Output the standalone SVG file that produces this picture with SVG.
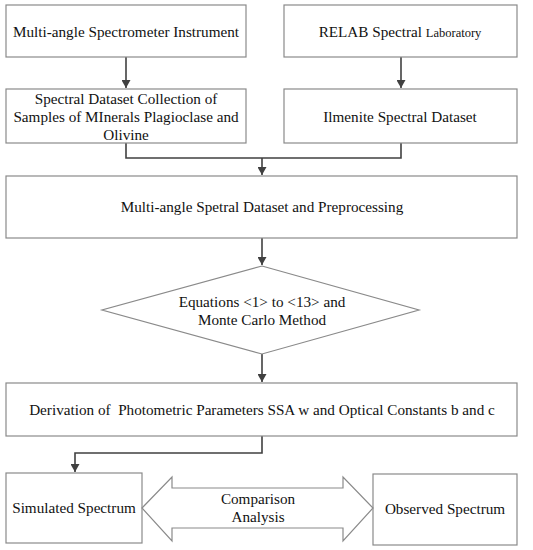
<svg xmlns="http://www.w3.org/2000/svg" width="533" height="550" viewBox="0 0 533 550">
<defs>
<marker id="ah" markerWidth="8" markerHeight="9" refX="8" refY="4.5" orient="auto" markerUnits="userSpaceOnUse">
<path d="M0,0 L8,4.5 L0,9 Z" fill="#404040"/>
</marker>
</defs>
<style>
.box{fill:#fff;stroke:#8a8a8a;stroke-width:1.2}
.t{font-family:"Liberation Serif","Times New Roman",serif;font-size:15.2px;fill:#111;text-anchor:middle;white-space:pre}
.s{font-size:12.5px}
.c{fill:none;stroke:#404040;stroke-width:1.6}
</style>
<rect width="533" height="550" fill="#fff"/>
<g id="connectors">
<path class="c" d="M126,57 V88" marker-end="url(#ah)"/>
<path class="c" d="M401,57 V88" marker-end="url(#ah)"/>
<path class="c" d="M126,143 V158 H401 V143"/>
<path class="c" d="M262,158 V175" marker-end="url(#ah)"/>
<path class="c" d="M262,238 V265" marker-end="url(#ah)"/>
<path class="c" d="M262,354 V382" marker-end="url(#ah)"/>
<path class="c" d="M262,436 V453 H75 V472" marker-end="url(#ah)"/>
</g>
<g id="n1"><rect class="box" x="6" y="5" width="240" height="52"/><text class="t" x="126" y="37">Multi-angle Spectrometer Instrument</text></g>
<g id="n2"><rect class="box" x="284" y="5" width="233" height="52"/><text class="t" x="400" y="37">RELAB Spectral <tspan class="s">Laboratory</tspan></text></g>
<g id="n3"><rect class="box" x="6" y="89" width="240" height="54"/><text class="t" x="126" y="104">Spectral Dataset Collection of</text><text class="t" x="126" y="122">Samples of MInerals Plagioclase and</text><text class="t" x="126" y="140">Olivine</text></g>
<g id="n4"><rect class="box" x="284" y="89" width="233" height="54"/><text class="t" x="400" y="122">Ilmenite Spectral Dataset</text></g>
<g id="n5"><rect class="box" x="6" y="176" width="511" height="62"/><text class="t" x="262" y="212">Multi-angle Spetral Dataset and Preprocessing</text></g>
<g id="n6"><polygon class="box" points="262,266 419,310 262,354 102,310"/><text class="t" x="262" y="307">Equations &lt;1&gt; to &lt;13&gt; and</text><text class="t" x="262" y="325">Monte Carlo Method</text></g>
<g id="n7"><rect class="box" x="6" y="383" width="511" height="53"/><text class="t" x="262" y="415">Derivation of  Photometric Parameters SSA w and Optical Constants b and c</text></g>
<g id="n8"><rect class="box" x="6" y="473" width="136" height="70"/><text class="t" x="74" y="513">Simulated Spectrum</text></g>
<g id="n9"><rect class="box" x="373" y="474" width="144" height="71"/><text class="t" x="445" y="514">Observed Spectrum</text></g>
<g id="n10"><polygon class="box" points="142,508 172,477 172,488 343,488 343,477 373,508 343,541 343,528 172,528 172,541"/><text class="t" x="258" y="504">Comparison</text><text class="t" x="258" y="522">Analysis</text></g>
</svg>
